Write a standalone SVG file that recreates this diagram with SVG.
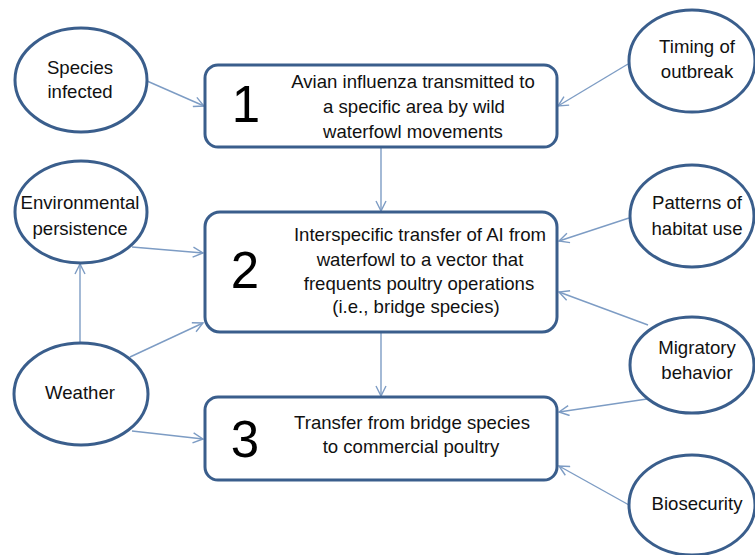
<svg xmlns="http://www.w3.org/2000/svg" width="755" height="555" viewBox="0 0 755 555">
<style>
.node{fill:#ffffff;stroke:#3a5e8c;stroke-width:3}
.t{font-family:"Liberation Sans",Arial,sans-serif;font-size:18.6px;fill:#111111;text-anchor:middle}
.num{font-family:"Liberation Sans",Arial,sans-serif;font-size:51px;fill:#000;text-anchor:middle}
.c{stroke:#7d9cc4;stroke-width:1.4;fill:none;marker-end:url(#ah)}
</style>
<defs>
<marker id="ah" viewBox="0 0 12 12" refX="11" refY="6" markerWidth="12" markerHeight="12" markerUnits="userSpaceOnUse" orient="auto">
<path d="M1,1 L11,6 L1,11" fill="none" stroke="#7d9cc4" stroke-width="1.4"/>
</marker>
</defs>
<rect width="755" height="555" fill="#ffffff"/>
<g id="connectors">
<line class="c" x1="147" y1="81" x2="204" y2="106"/>
<line class="c" x1="628" y1="64" x2="558" y2="106"/>
<line class="c" x1="381" y1="148" x2="381" y2="211"/>
<line class="c" x1="132" y1="247" x2="203" y2="253"/>
<line class="c" x1="80" y1="343" x2="80" y2="264"/>
<line class="c" x1="130" y1="357" x2="203" y2="323"/>
<line class="c" x1="132" y1="431" x2="203" y2="439"/>
<line class="c" x1="629" y1="218" x2="559" y2="241"/>
<line class="c" x1="648" y1="325" x2="559" y2="292"/>
<line class="c" x1="647" y1="399" x2="559" y2="412"/>
<line class="c" x1="629" y1="505" x2="559" y2="466"/>
<line class="c" x1="381" y1="333" x2="381" y2="396"/>
</g>
<g id="box1">
<rect class="node" x="205" y="65" width="352" height="82" rx="13"/>
<text class="num" x="246" y="122">1</text>
<text class="t" x="413" y="88">Avian influenza transmitted to</text>
<text class="t" x="414" y="113">a specific area by wild</text>
<text class="t" x="413" y="138">waterfowl movements</text>
</g>
<g id="box2">
<rect class="node" x="205" y="212" width="352" height="120" rx="15"/>
<text class="num" x="245" y="288">2</text>
<text class="t" x="420" y="241">Interspecific transfer of AI from</text>
<text class="t" x="420" y="266">waterfowl to a vector that</text>
<text class="t" x="419" y="290">frequents poultry operations</text>
<text class="t" x="416" y="313">(i.e., bridge species)</text>
</g>
<g id="box3">
<rect class="node" x="205" y="397" width="352" height="83" rx="13"/>
<text class="num" x="245" y="457">3</text>
<text class="t" x="412" y="429">Transfer from bridge species</text>
<text class="t" x="411" y="453">to commercial poultry</text>
</g>
<g id="species">
<ellipse class="node" cx="81" cy="80" rx="66" ry="52"/>
<text class="t" x="80" y="74">Species</text>
<text class="t" x="80" y="98">infected</text>
</g>
<g id="envpersist">
<ellipse class="node" cx="81" cy="212" rx="66" ry="51"/>
<text class="t" x="80" y="209">Environmental</text>
<text class="t" x="80" y="235">persistence</text>
</g>
<g id="weather">
<ellipse class="node" cx="81" cy="394" rx="67" ry="51"/>
<text class="t" x="80" y="399">Weather</text>
</g>
<g id="timing">
<ellipse class="node" cx="692" cy="61" rx="63" ry="51"/>
<text class="t" x="697" y="53">Timing of</text>
<text class="t" x="697" y="78">outbreak</text>
</g>
<g id="habitat">
<ellipse class="node" cx="692" cy="216" rx="62" ry="51"/>
<text class="t" x="697" y="209">Patterns of</text>
<text class="t" x="697" y="235">habitat use</text>
</g>
<g id="migratory">
<ellipse class="node" cx="692" cy="365" rx="62" ry="48"/>
<text class="t" x="697" y="354">Migratory</text>
<text class="t" x="697" y="379">behavior</text>
</g>
<g id="biosecurity">
<ellipse class="node" cx="692" cy="505" rx="63" ry="50"/>
<text class="t" x="697" y="510">Biosecurity</text>
</g>
</svg>
